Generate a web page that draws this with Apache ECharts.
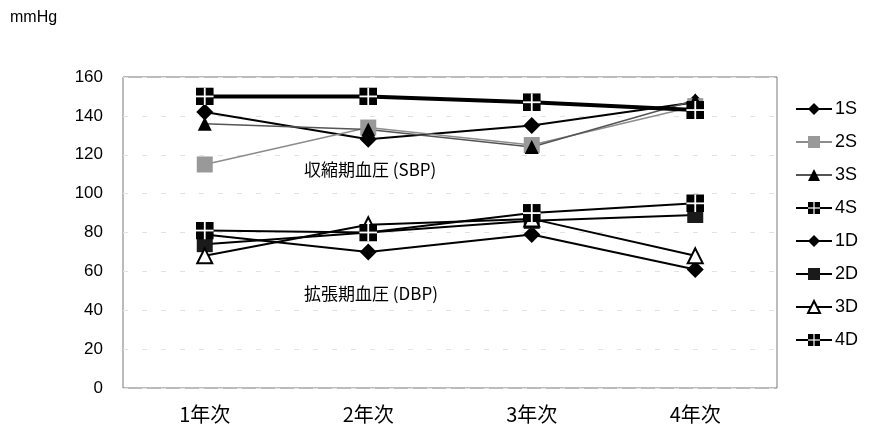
<!DOCTYPE html>
<html>
<head>
<meta charset="utf-8">
<script src="https://cdn.jsdelivr.net/npm/echarts@6/dist/echarts.min.js"></script>
<style>
  html, body { margin: 0; padding: 0; background: #fff; }
  #chart { width: 882px; height: 447px; }
</style>
</head>
<body>
<div id="chart"></div>
<script>
// School years on the x axis
const years = ['1年次', '2年次', '3年次', '4年次'];

// Systolic blood pressure per group (mmHg)
const s1 = [142, 128, 135, 147];
const s2 = [115, 134, 125, 145];
const s3 = [136, 133, 124, 148];
const s4 = [150, 150, 147, 143];

// Diastolic blood pressure per group (mmHg)
const d1 = [79, 70, 79, 61];
const d2 = [74, 80, 86, 89];
const d3 = [68, 84, 87, 68];
const d4 = [81, 80, 90, 95];

const yTicks = [0, 20, 40, 60, 80, 100, 120, 140, 160];

const FONT = "'Liberation Sans', Arial, 'Noto Sans CJK JP', sans-serif";
const CJK = "'Noto Sans CJK JP', 'Liberation Sans', sans-serif";

// Black square split by a thin white cross, as an inline SVG image
const crossSvg =
  "<svg xmlns='http://www.w3.org/2000/svg' width='20' height='20' viewBox='0 0 20 20'>" +
  "<rect width='20' height='20' fill='#000'/>" +
  "<rect x='9' y='0' width='2' height='20' fill='#fff'/>" +
  "<rect x='0' y='9' width='20' height='2' fill='#fff'/></svg>";
const crossSquare = 'image://data:image/svg+xml;charset=utf-8,' + encodeURIComponent(crossSvg);

function line(name, data, opt) {
  return {
    name: name,
    type: 'line',
    data: data,
    symbol: opt.symbol,
    symbolSize: opt.size,
    showSymbol: true,
    lineStyle: { color: opt.lineColor || '#000', width: opt.lineWidth || 2 },
    itemStyle: {
      color: opt.fill || '#000',
      borderColor: opt.border || opt.fill || '#000',
      borderWidth: opt.borderWidth || 0,
      opacity: 1
    },
    emphasis: { disabled: true },
    animation: false
  };
}

const chart = echarts.init(document.getElementById('chart'), null, { renderer: 'canvas' });

chart.setOption({
  backgroundColor: '#fff',
  animation: false,
  grid: {
    left: 123, right: 105, top: 77, bottom: 59,
    show: true, borderColor: '#777', borderWidth: 1, backgroundColor: 'transparent'
  },
  legend: {
    orient: 'vertical',
    left: 790,
    top: 95,
    itemWidth: 36,
    itemHeight: 15,
    itemGap: 15,
    textStyle: { fontFamily: FONT, fontSize: 18, color: '#000', padding: [0, 0, 0, -2] },
    data: ['1S', '2S', '3S', '4S', '1D', '2D', '3D', '4D']
  },
  xAxis: {
    type: 'category',
    data: years,
    boundaryGap: true,
    axisLine: { show: false },
    axisTick: { show: false },
    axisLabel: { fontFamily: CJK, fontSize: 20, color: '#000', margin: 16 },
    splitLine: { show: false }
  },
  yAxis: {
    type: 'value',
    min: yTicks[0],
    max: yTicks[yTicks.length - 1],
    interval: 20,
    axisLine: { show: false },
    axisTick: { show: false },
    axisLabel: { fontFamily: FONT, fontSize: 17, color: '#000', margin: 20 },
    splitLine: { show: true, lineStyle: { color: '#e2e2e2', width: 1, type: [5, 14] } }
  },
  graphic: [
    { type: 'text', left: 10, top: 10, style: { text: 'mmHg', font: '16px ' + FONT, fill: '#000' } },
    { type: 'text', left: 304, top: 161, style: { text: '収縮期血圧 (SBP)', font: '17px ' + CJK, fill: '#000' } },
    { type: 'text', left: 304, top: 285, style: { text: '拡張期血圧 (DBP)', font: '17px ' + CJK, fill: '#000' } }
  ],
  series: [
    line('1S', s1, { symbol: 'diamond', size: 17 }),
    line('2S', s2, { symbol: 'rect', size: 16, fill: '#999', lineColor: '#8c8c8c', lineWidth: 1.5 }),
    line('3S', s3, { symbol: 'triangle', size: 14, lineColor: '#555', lineWidth: 1.5 }),
    line('4S', s4, { symbol: crossSquare, size: 18, lineWidth: 4 }),
    line('1D', d1, { symbol: 'diamond', size: 17 }),
    line('2D', d2, { symbol: 'rect', size: 16, fill: '#1a1a1a' }),
    line('3D', d3, { symbol: 'triangle', size: 15, fill: '#fff', border: '#000', borderWidth: 2 }),
    line('4D', d4, { symbol: crossSquare, size: 18 })
  ]
});
</script>
</body>
</html>
